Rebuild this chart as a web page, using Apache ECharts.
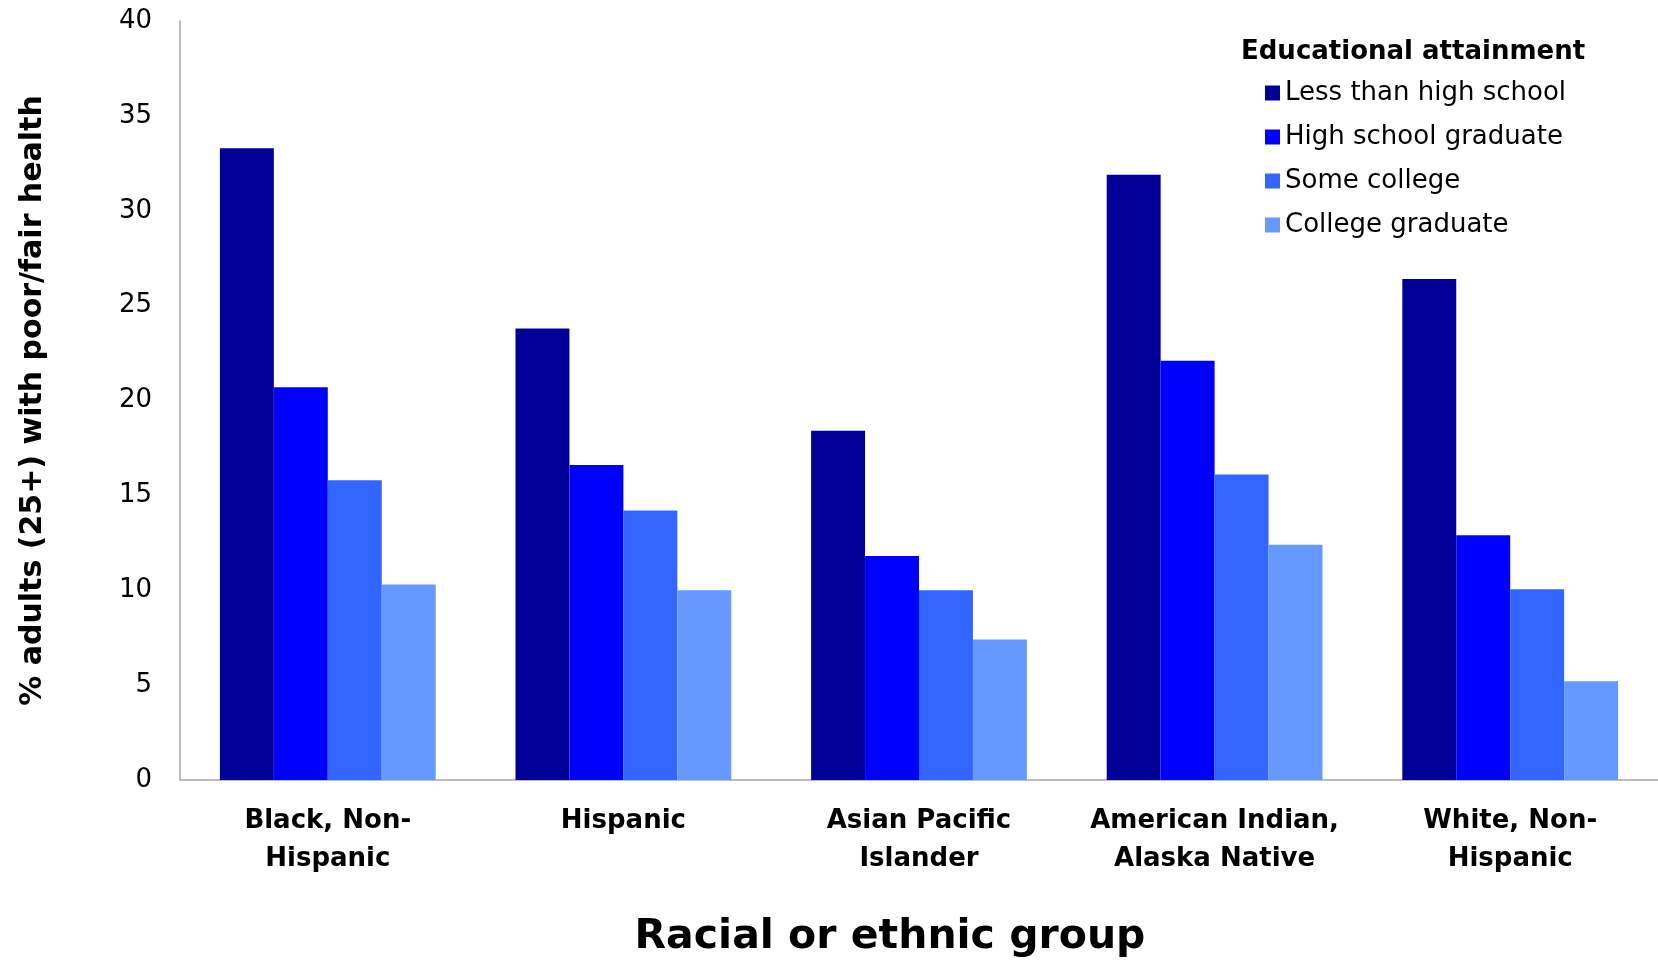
<!DOCTYPE html>
<html>
<head>
<meta charset="utf-8">
<script src="https://cdn.jsdelivr.net/npm/echarts@6/dist/echarts.min.js"></script>
<style>
html,body{margin:0;padding:0;background:#fff;}
#chart{width:1658px;height:963px;}
</style>
</head>
<body>
<div id="chart"></div>
<script>
const categories = ["Black, Non-\nHispanic", "Hispanic", "Asian Pacific\nIslander", "American Indian,\nAlaska Native", "White, Non-\nHispanic"];
const seriesNames = ["Less than high school", "High school graduate", "Some college", "College graduate"];
const lessThanHS = [33.3, 23.8, 18.4, 31.9, 26.4];
const hsGraduate = [20.7, 16.6, 11.8, 22.1, 12.9];
const someCollege = [15.8, 14.2, 10.0, 16.1, 10.05];
const collegeGrad = [10.3, 10.0, 7.4, 12.4, 5.2];
const colors = ["#000099", "#0000FF", "#3366FF", "#6699FF"];
const seriesData = [lessThanHS, hsGraduate, someCollege, collegeGrad];

const chart = echarts.init(document.getElementById('chart'));
const font = "'DejaVu Sans', sans-serif";
chart.setOption({
  animation: false,
  backgroundColor: '#ffffff',
  title: {
    text: 'Educational attainment',
    left: 1241,
    top: 39,
    padding: 0,
    textStyle: {fontFamily: font, fontSize: 26, fontWeight: 'bold', color: '#000'}
  },
  legend: {
    orient: 'vertical',
    left: 1265,
    top: 80,
    itemWidth: 15,
    itemHeight: 15,
    itemGap: 18,
    icon: 'rect',
    padding: 0,
    data: seriesNames,
    textStyle: {fontFamily: font, fontSize: 26, color: '#000'}
  },
  grid: {left: 180, right: 0, top: 21, bottom: 181, containLabel: false},
  xAxis: {
    type: 'category',
    data: categories,
    axisLine: {show: true, lineStyle: {color: '#a6a6a6', width: 1.5}},
    axisTick: {show: false},
    axisLabel: {fontFamily: font, fontSize: 26, fontWeight: 'bold', color: '#000', lineHeight: 38, margin: 22, interval: 0},
    name: 'Racial or ethnic group',
    nameLocation: 'middle',
    nameGap: 137,
    nameTextStyle: {fontFamily: font, fontSize: 41, fontWeight: 'bold', color: '#000', padding: [0, 58, 0, 0]}
  },
  yAxis: {
    type: 'value',
    min: 0, max: 40, interval: 5,
    splitLine: {show: false},
    axisLine: {show: true, lineStyle: {color: '#a6a6a6', width: 1.5}},
    axisTick: {show: false},
    axisLabel: {fontFamily: font, fontSize: 26, color: '#000', margin: 28},
    name: '% adults (25+) with poor/fair health',
    nameLocation: 'middle',
    nameGap: 132,
    nameTextStyle: {fontFamily: font, fontSize: 30, fontWeight: 'bold', color: '#000'}
  },
  series: seriesNames.map((n, i) => ({
    name: n,
    type: 'bar',
    data: seriesData[i],
    barGap: '0%',
    barCategoryGap: '27%',
    itemStyle: {color: colors[i]}
  }))
});
</script>
</body>
</html>
